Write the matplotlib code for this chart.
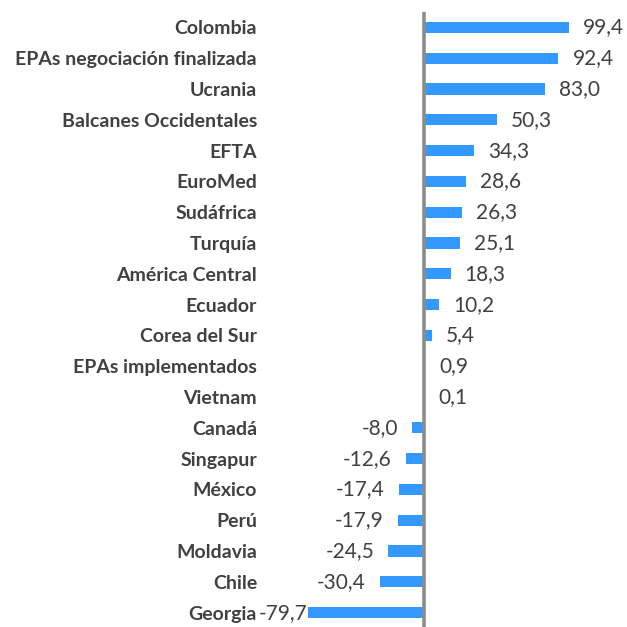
import numpy as np
from matplotlib import pyplot as plt

categories = ['Colombia', 'EPAs negociación finalizada', 'Ucrania', 'Balcanes Occidentales',
              'EFTA', 'EuroMed', 'Sudáfrica', 'Turquía', 'América Central', 'Ecuador',
              'Corea del Sur', 'EPAs implementados', 'Vietnam', 'Canadá', 'Singapur',
              'México', 'Perú', 'Moldavia', 'Chile', 'Georgia']
values = [99.4, 92.4, 83.0, 50.3, 34.3, 28.6, 26.3, 25.1, 18.3, 10.2,
          5.4, 0.9, 0.1, -8.0, -12.6, -17.4, -17.9, -24.5, -30.4, -79.7]

bar_color = '#3399ff'
text_color = '#404040'
plt.rcParams['font.family'] = ['Lato', 'DejaVu Sans']

dpi = 100
fig = plt.figure(figsize=(6.27, 6.27), dpi=dpi)
W = H = 627.0
# axes: left edge at 308 px, ~1.45 px per unit
x_lo, x_hi = min(values), 137
px_per_unit = 1.455
ax_left = 308 / W
ax_width = (x_hi - x_lo) * px_per_unit / W
ax = fig.add_axes([ax_left, -1 / H, ax_width, 616 / H])

y = np.arange(len(categories))
ax.barh(y, values, height=0.37, color=bar_color, zorder=2)
ax.set_xlim(x_lo, x_hi)
ax.set_ylim(len(categories) - 0.5, -0.5)

for s in ax.spines.values():
    s.set_visible(False)
ax.axvline(0, color='#8c8c8c', lw=2.6, zorder=3)
ax.set_xticks([])
ax.set_yticks(y)
ax.set_yticklabels(categories, fontsize=14, fontweight='bold', color=text_color)
ax.tick_params(axis='y', length=0, pad=51 * 72 / dpi)

gap = 14 / px_per_unit
for yi, v in zip(y, values):
    if v >= 0:
        ax.text(v + gap, yi, f'{v:.1f}'.replace('.', ','), ha='left', va='center',
                fontsize=15, color=text_color)
    else:
        xv = max(v - gap, x_lo)
        ax.text(xv, yi, f'{v:.1f}'.replace('.', ','), ha='right', va='center',
                fontsize=15, color=text_color)

fig.savefig('out.png', dpi=dpi)
